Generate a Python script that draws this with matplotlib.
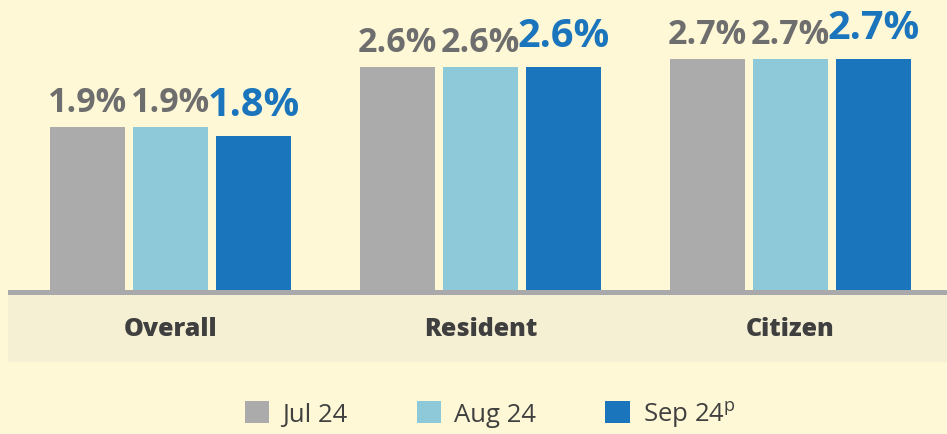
import numpy as np
import matplotlib.pyplot as plt
from matplotlib.patches import Rectangle, Patch

plt.rcParams['font.family'] = ['Open Sans', 'DejaVu Sans']

categories = ['Overall', 'Resident', 'Citizen']
series = ['Jul 24', 'Aug 24', 'Sep 24$^\\mathregular{p}$']
values = {
    'Jul 24': [1.9, 2.6, 2.7],
    'Aug 24': [1.9, 2.6, 2.7],
    'Sep 24': [1.8, 2.6, 2.7],
}
colors = ['#ABABAB', '#8DC9D9', '#1B75BC']
label_colors = ['#6E6E6E', '#6E6E6E', '#1B75BC']

W, H = 947, 435
bg = '#FEF8D6'
fig = plt.figure(figsize=(W / 100, H / 100), dpi=100, facecolor=bg)

# axes: left edge at 8px, baseline at 291px from top
base_px = 291
ax = fig.add_axes([8 / W, (H - base_px) / H, (W - 8) / W, base_px / H])
ax.set_facecolor('none')

# band under the baseline and the grey axis line
fig.add_artist(Rectangle((8 / W, (H - 363) / H), (W - 8) / W, 72 / H,
                         transform=fig.transFigure, facecolor='#F5F0D4',
                         edgecolor='none', zorder=0))
fig.add_artist(Rectangle((8 / W, (H - 296) / H), (W - 8) / W, 5 / H,
                         transform=fig.transFigure, facecolor='#A9A9AB',
                         edgecolor='none', zorder=0))

x = np.arange(len(categories))
width = 75 / 310
step = 83 / 310
keys = list(values.keys())
for i, key in enumerate(keys):
    pos = x + (i - 1) * step
    bars = ax.bar(pos, values[key], width, color=colors[i], zorder=2)
    big = i == 2
    for b, v in zip(bars, values[key]):
        ax.annotate(f'{v:.1f}%', (b.get_x() + b.get_width() / 2, v),
                    xytext=(0, 15 if big else 11.5), textcoords='offset points',
                    ha='center', va='baseline', fontsize=28.5 if big else 24.5,
                    fontweight='bold', color=label_colors[i])

ax.set_xlim((8 - 170.5) / 310, (W - 170.5) / 310)
ax.set_ylim(0, base_px / 85.7)
ax.set_xticks(x)
ax.set_xticklabels(categories, fontsize=18, fontweight='heavy', color='#3F3F3F')
ax.tick_params(axis='x', length=0, pad=19)
ax.set_yticks([])
for s in ax.spines.values():
    s.set_visible(False)

handles = [Patch(facecolor=c, edgecolor='none') for c in colors]
fig.legend(handles, series, loc='center', ncol=3, frameon=False,
           bbox_to_anchor=(490 / W, 1 - 415 / H),
           prop={'size': 18.5}, labelcolor='#404040',
           handlelength=0.95, handleheight=0.95, handletextpad=0.5,
           columnspacing=2.7)

fig.savefig('out.png', dpi=100, facecolor=bg)
